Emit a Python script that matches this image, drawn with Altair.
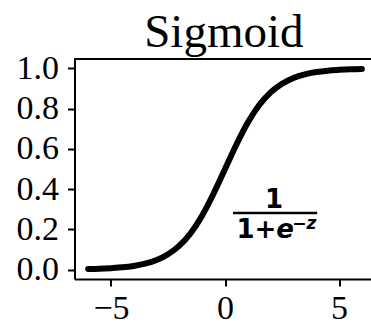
import altair as alt
import pandas as pd

# Logistic curve sampled along z
z_values = [-6.0, -5.5, -5.0, -4.5, -4.0, -3.5, -3.0, -2.5, -2.0, -1.5, -1.0, -0.5,
            0.0, 0.5, 1.0, 1.5, 2.0, 2.5, 3.0, 3.5, 4.0, 4.5, 5.0, 5.5, 6.0]
s_values = [0.0025, 0.004, 0.007, 0.011, 0.018, 0.029, 0.047, 0.076, 0.119, 0.182, 0.269, 0.378,
            0.5, 0.622, 0.731, 0.818, 0.881, 0.924, 0.953, 0.971, 0.982, 0.989, 0.993, 0.996, 0.9975]
x_ticks = [-5, 0, 5]
y_ticks = [0.0, 0.2, 0.4, 0.6, 0.8, 1.0]

df = pd.DataFrame({"z": z_values, "s": s_values})

SERIF = "Liberation Serif"
MATH = "DejaVu Sans"
W, H = 296.5, 220

x_scale = alt.Scale(domain=[-6.6, 6.4], nice=False, zero=False)
y_scale = alt.Scale(domain=[-0.047, 1.047], nice=False, zero=False)

base = alt.Chart(df)

curve = base.mark_line(color="black", strokeWidth=6, strokeCap="round",
                       interpolate="monotone", clip=True).encode(
    x=alt.X("z:Q", scale=x_scale, title=None,
            axis=alt.Axis(values=x_ticks, format="d", grid=False)),
    y=alt.Y("s:Q", scale=y_scale, title=None,
            axis=alt.Axis(values=y_ticks, format=".1f", grid=False)),
)

# top edge of the frame
top_edge = base.mark_rule(color="black", strokeWidth=2).encode(
    x=alt.value(0), x2=alt.value(W), y=alt.value(0)
)

# heading above the frame, centred on z = 0
heading = alt.Chart().mark_text(text="Sigmoid", font=SERIF, fontSize=47, color="black",
                                align="center", baseline="alphabetic").encode(
    x=alt.datum(-0.05, scale=x_scale), y=alt.value(-12))

# formula 1 / (1 + e^-z)
numer = alt.Chart().mark_text(text="1", font=MATH, fontWeight="bold", fontSize=26,
                              align="center", baseline="alphabetic").encode(
    x=alt.datum(2.15, scale=x_scale), y=alt.datum(0.306, scale=y_scale))
bar = alt.Chart().mark_rule(color="black", strokeWidth=2.5).encode(
    x=alt.datum(0.35, scale=x_scale), x2=alt.datum(4.04),
    y=alt.datum(0.281, scale=y_scale))
denom = alt.Chart().mark_text(text="1+", font=MATH, fontWeight="bold", fontSize=26,
                              align="left", baseline="alphabetic").encode(
    x=alt.datum(0.5, scale=x_scale), y=alt.datum(0.155, scale=y_scale))
denom_e = alt.Chart().mark_text(text="e", font=MATH, fontWeight="bold", fontStyle="italic",
                                fontSize=26, align="left", baseline="alphabetic").encode(
    x=alt.datum(2.25, scale=x_scale), y=alt.datum(0.155, scale=y_scale))
sup = alt.Chart().mark_text(text="−z", font=MATH, fontWeight="bold", fontStyle="italic",
                            fontSize=17, align="left", baseline="alphabetic").encode(
    x=alt.datum(2.95, scale=x_scale), y=alt.datum(0.2, scale=y_scale))

chart = alt.layer(curve, top_edge, heading, numer, bar, denom, denom_e, sup).properties(
    width=W, height=H,
    autosize=alt.AutoSizeParams(type="none"),
    padding={"left": 74.5, "top": 59, "right": 0, "bottom": 45},
).configure(background="white").configure_view(stroke=None).configure_axis(
    labelFont=SERIF, labelFontSize=34, labelColor="black",
    domainColor="black", domainWidth=2, tickColor="black", tickWidth=2,
    tickSize=7, labelPadding=5,
).configure_axisY(labelPadding=9)

chart.save("out.html", embed_options={"renderer": "svg", "actions": False})
